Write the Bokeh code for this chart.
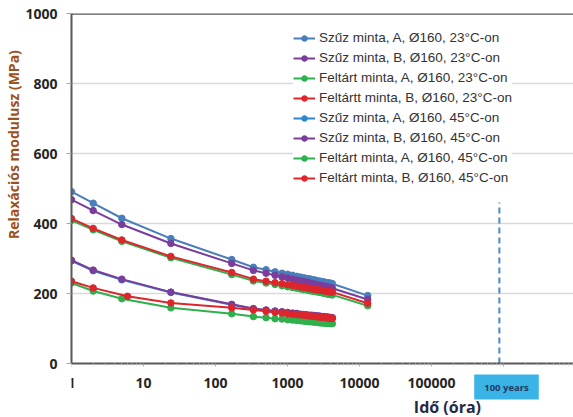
import math
from bokeh.plotting import figure
from bokeh.models import (Range1d, FixedTicker, CustomJSTickFormatter, Legend,
                          LegendItem, Label, Span, Title)
from bokeh.embed import file_html
from bokeh.resources import INLINE

# ---------------- data ----------------
t_23 = [1, 2, 5, 24, 168, 336, 504, 672, 840, 1008, 1176, 1344, 1512, 1680,
        1848, 2016, 2184, 2352, 2520, 2688, 2856, 3024, 3192, 3360, 3528,
        3696, 3864, 4032, 4200, 13000]
t_45 = [1, 2, 5, 24, 168, 336, 504, 672, 840, 1008, 1176, 1344, 1512, 1680,
        1848, 2016, 2184, 2352, 2520, 2688, 2856, 3024, 3192, 3360, 3528,
        3696, 3864, 4032, 4200]
t_45_red = [1, 2, 6, 24, 168, 336, 504, 672, 840, 1008, 1176, 1344, 1512, 1680,
            1848, 2016, 2184, 2352, 2520, 2688, 2856, 3024, 3192, 3360, 3528,
            3696, 3864, 4032, 4200]

szuz_a_23 = [491, 458, 415, 357, 297, 275, 268, 262, 258, 255, 252, 249, 247,
             245, 243, 242, 240, 239, 237, 236, 235, 234, 233, 232, 231, 230,
             230, 229, 228, 194]
szuz_b_23 = [468, 437, 397, 343, 286, 266, 258, 252, 247, 244, 241, 238, 236,
             234, 232, 230, 228, 227, 225, 224, 223, 222, 221, 220, 219, 218,
             217, 216, 215, 183]
feltart_a_23 = [409, 382, 349, 302, 254, 236, 230, 226, 222, 219, 217, 215, 213,
                211, 210, 208, 207, 206, 205, 204, 203, 202, 201, 200, 199, 198,
                197, 197, 196, 165]
feltart_b_23 = [414, 386, 353, 306, 260, 241, 235, 231, 228, 225, 223, 221, 219,
                217, 216, 215, 213, 212, 211, 210, 209, 209, 208, 207, 206, 206,
                205, 204, 204, 172]
szuz_a_45 = [293, 265, 239, 203, 168, 156, 152, 149, 147, 145, 143, 142, 140,
             139, 138, 137, 137, 136, 135, 135, 134, 133, 133, 132, 132, 131,
             131, 130, 130]
szuz_b_45 = [295, 267, 241, 204, 169, 157, 153, 150, 148, 146, 144, 143, 141,
             140, 139, 138, 138, 137, 136, 136, 135, 134, 134, 133, 133, 132,
             132, 131, 131]
feltart_a_45 = [230, 207, 185, 159, 142, 134, 131, 128, 127, 125, 124, 123, 122,
                121, 120, 119, 119, 118, 118, 117, 116, 116, 116, 115, 115, 115,
                114, 114, 114]
feltart_b_45 = [235, 216, 192, 173, 159, 153, 149, 146, 144, 142, 141, 140, 139,
                138, 137, 136, 135, 135, 134, 133, 133, 132, 132, 131, 131, 130,
                130, 129, 129]

series_names = [
    "Szűz minta, A, Ø160, 23°C-on",
    "Szűz minta, B, Ø160, 23°C-on",
    "Feltárt minta, A, Ø160, 23°C-on",
    "Feltártt minta, B, Ø160, 23°C-on",
    "Szűz minta, A, Ø160, 45°C-on",
    "Szűz minta, B, Ø160, 45°C-on",
    "Feltárt minta, A, Ø160, 45°C-on",
    "Feltárt minta, B, Ø160, 45°C-on",
]
series_t = [t_23, t_23, t_23, t_23, t_45, t_45, t_45, t_45_red]
series_y = [szuz_a_23, szuz_b_23, feltart_a_23, feltart_b_23,
            szuz_a_45, szuz_b_45, feltart_a_45, feltart_b_45]
series_colors = ["#4a7ebb", "#7a3d9c", "#2fb04c", "#dc262c",
                 "#2f86cc", "#7a3d9c", "#2fb04c", "#dc262c"]

x_ticks = [1, 10, 100, 1000, 10000, 100000, 1000000, 10000000]
y_ticks = [0, 200, 400, 600, 800, 1000]
hundred_years_h = 876000
hundred_years_dash_top = 460
hundred_years_text = "100 years"
x_title = "Idő  (óra)"
y_title = "Relaxációs modulusz  (MPa)"

# ---------------- figure ----------------
LEFT, TOP = 71, 13
W, H = 573, 417
AXIS_Y = 363                       # pixel row of the value 0
px_per_decade = 72.0
px_per_unit = 0.35
x_end = 10 ** ((W - LEFT) / px_per_decade)
y_start = -(H - AXIS_Y) / px_per_unit   # frame reaches the bottom edge

p = figure(width=W, height=H, x_axis_type="log",
           x_range=Range1d(1, x_end), y_range=Range1d(y_start, 1000),
           output_backend="svg", toolbar_location=None,
           min_border_left=LEFT, min_border_right=0,
           min_border_top=TOP, min_border_bottom=0)
p.outline_line_color = None
p.background_fill_color = "white"

font = "Open Sans"
axis_col = "#595959"
for ax in (p.xaxis[0], p.yaxis[0]):
    ax.axis_line_color = axis_col
    ax.axis_line_width = 2
    ax.major_tick_line_color = "#a6a6a6"
    ax.minor_tick_line_color = "#bfbfbf"
    ax.major_label_text_font = font
    ax.major_label_text_font_style = "bold"
    ax.major_label_text_font_size = "14px"
    ax.major_label_text_color = "#262626"
    ax.axis_label = None

minor = []
for d in range(7):
    for m in range(2, 10):
        minor.append(m * 10 ** d)
xa = p.xaxis[0]
xa.fixed_location = 0
xa.ticker = FixedTicker(ticks=x_ticks, minor_ticks=minor)
xa.formatter = CustomJSTickFormatter(
    code="return tick >= 1e6 ? '' : tick.toFixed(0);")
xa.major_tick_in = 0
xa.major_tick_out = 3
xa.minor_tick_in = 0
xa.minor_tick_out = 2
xa.major_label_standoff = 11

ya = p.yaxis[0]
ya.bounds = (0, 1000)
ya.ticker = FixedTicker(ticks=y_ticks)
ya.major_tick_in = 0
ya.major_tick_out = 5
ya.minor_tick_line_color = None
ya.major_label_standoff = 9

p.xgrid.grid_line_color = None
p.ygrid.ticker = FixedTicker(ticks=[200, 400, 600, 800])
p.ygrid.grid_line_color = "#d9d9d9"
p.ygrid.grid_line_width = 1.5

p.add_layout(Span(location=1000, dimension="width", line_color=axis_col,
                  line_width=2.5))

# 100 years dashed line
p.segment(x0=[hundred_years_h], y0=[0], x1=[hundred_years_h],
          y1=[hundred_years_dash_top], line_color="#4a86c8",
          line_width=2, line_dash="6 4")

items = []
for name, tt, yy, col in zip(series_names, series_t, series_y, series_colors):
    r1 = p.line(tt, yy, line_color=col, line_width=2)
    r2 = p.scatter(tt, yy, marker="circle", size=6.5, fill_color=col,
                   line_color=col)
    items.append(LegendItem(label=name, renderers=[r1, r2]))

legend = Legend(items=items, location=(222, 178 + (H - AXIS_Y)))
legend.label_text_font = "Liberation Sans"
legend.label_text_font_size = "13.5px"
legend.label_text_color = "#333333"
legend.glyph_width = 22
legend.glyph_height = 14
legend.label_height = 14
legend.spacing = 5
legend.padding = 4
legend.margin = 0
legend.label_standoff = 4
legend.border_line_color = None
legend.background_fill_color = "white"
legend.background_fill_alpha = 1
p.add_layout(legend)

# y axis title
p.add_layout(Title(text=y_title, align="right", offset=33, standoff=0,
                   text_font=font, text_font_style="bold",
                   text_font_size="14px", text_color="#9a531c"), "left")

# x axis title (inside the extended frame, below the axis)
p.add_layout(Label(x=10 ** ((449 - LEFT) / px_per_decade),
                   y=(AXIS_Y - 406) / px_per_unit,
                   text=x_title, text_align="center", text_baseline="middle",
                   text_font=font, text_font_style="bold",
                   text_font_size="16px", text_color="#1f2a44"))

# 100 years box under the 10^6 tick
box = Label(x=1e6, y=(AXIS_Y - 386.5) / px_per_unit, x_offset=3,
            text=hundred_years_text, text_align="center",
            text_baseline="middle", text_font=font,
            text_font_style="bold", text_font_size="9.5px",
            text_color="#1f3864", background_fill_color="#3ab4e6",
            padding=8)
try:
    box.padding = dict(left=10, right=10, top=6, bottom=6)
except Exception:
    pass
p.add_layout(box)

open("out.html", "w").write(file_html(p, INLINE))
